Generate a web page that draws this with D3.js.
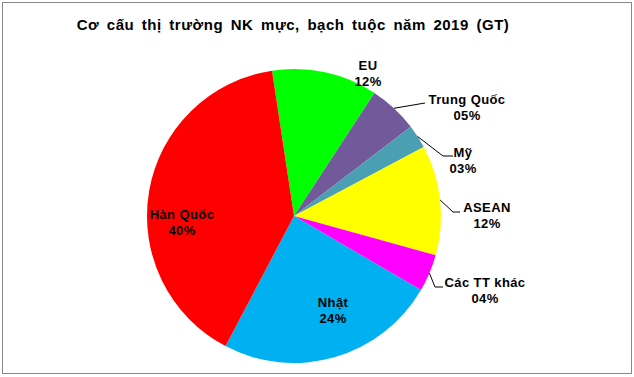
<!DOCTYPE html>
<html>
<head>
<meta charset="utf-8">
<script src="https://cdn.jsdelivr.net/npm/d3@7"></script>
<style>
  body { margin: 0; background: #fff; }
  text { font-family: Arial, "Liberation Sans", sans-serif; font-weight: bold; fill: #000; }
</style>
</head>
<body>
<div id="chart"></div>
<script>
// market share of squid & octopus imports, 2019 (value)
const markets = ["EU", "Trung Quốc", "Mỹ", "ASEAN", "Các TT khác", "Nhật", "Hàn Quốc"];
const shares = [11.6, 5.4, 2.6, 12.1, 4.1, 24.3, 39.9];
const labels = ["12%", "05%", "03%", "12%", "04%", "24%", "40%"];
const colors = ["#00ff00", "#71599a", "#4a9fb2", "#ffff00", "#ff00ff", "#00b0f0", "#ff0000"];

const width = 634;
const height = 377;
const cx = 294, cy = 216, r = 147;

const svg = d3.select("#chart")
    .append("svg")
    .attr("width", width)
    .attr("height", height);

svg.append("rect")
    .attr("x", 2.5).attr("y", 2.5)
    .attr("width", 629).attr("height", 371)
    .attr("fill", "#fff")
    .attr("stroke", "#888")
    .attr("stroke-width", 1);

svg.append("text")
    .attr("x", 293).attr("y", 30)
    .attr("text-anchor", "middle")
    .style("font-size", "15px")
    .style("letter-spacing", "0.5px")
    .style("word-spacing", "3px")
    .text("Cơ cấu thị trường NK mực, bạch tuộc năm 2019 (GT)");

const data = markets.map((m, i) => ({ name: m, value: shares[i], label: labels[i], color: colors[i] }));

const start = -8.6 * Math.PI / 180;
const pie = d3.pie()
    .sort(null)
    .value(d => d.value)
    .startAngle(start)
    .endAngle(start + 2 * Math.PI);

const arc = d3.arc().innerRadius(0).outerRadius(r);
const arcs = pie(data);

const g = svg.append("g").attr("transform", `translate(${cx},${cy})`);

g.selectAll("path")
    .data(arcs)
    .enter().append("path")
    .attr("d", arc)
    .attr("fill", d => d.data.color);

// label placement: [x, y of first line] relative to page, plus optional leader
const labelPos = {
    "EU": { x: 368, y: 70 },
    "Trung Quốc": { x: 467, y: 104, lead: [[0.5, 0], [425, 103]] },
    "Mỹ": { x: 463, y: 157, lead: [[0.5, 0], [443, 156], [453, 156]] },
    "ASEAN": { x: 487, y: 212, lead: [[0.5, 0], [453, 212], [460, 212]] },
    "Các TT khác": { x: 485, y: 287, lead: [[0.5, 0], [435, 287], [443, 287]] },
    "Nhật": { x: 333, y: 307 },
    "Hàn Quốc": { x: 182, y: 219 }
};

const outer = d3.arc().innerRadius(r).outerRadius(r);

arcs.forEach(a => {
    const p = labelPos[a.data.name];
    if (p.lead) {
        const c = outer.centroid(a);
        const pts = [[c[0] + cx, c[1] + cy]].concat(p.lead.slice(1));
        svg.append("path")
            .attr("d", d3.line()(pts))
            .attr("fill", "none")
            .attr("stroke", "#000")
            .attr("stroke-width", 1);
    }
    const t = svg.append("text")
        .attr("text-anchor", "middle")
        .style("font-size", "13px")
        .style("letter-spacing", "0.4px");
    t.append("tspan").attr("x", p.x).attr("y", p.y).text(a.data.name);
    t.append("tspan").attr("x", p.x).attr("y", p.y + 16).text(a.data.label);
});
</script>
</body>
</html>
